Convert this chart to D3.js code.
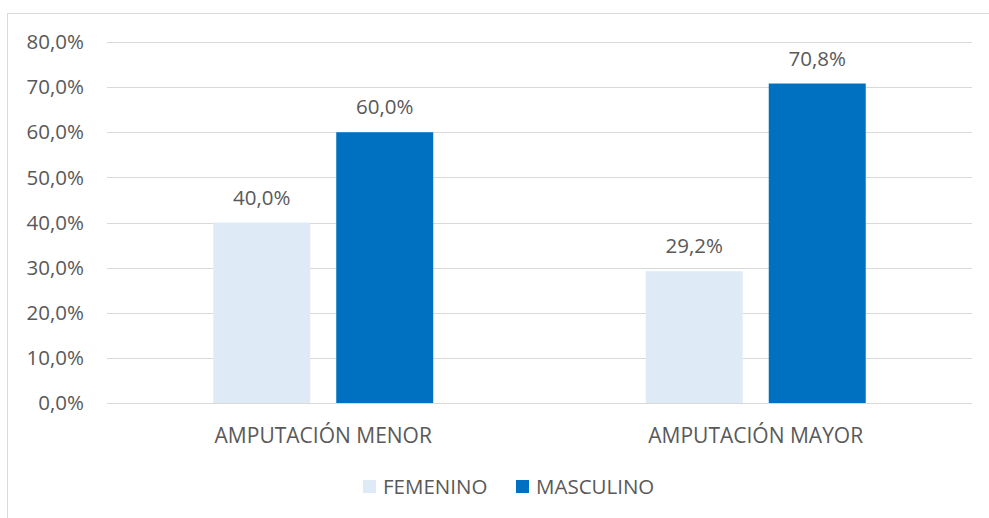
<!DOCTYPE html>
<html>
<head>
<meta charset="utf-8">
<script src="https://cdn.jsdelivr.net/npm/d3@7"></script>
<style>
  body { margin: 0; background: #fff; }
  text { font-family: "Open Sans", sans-serif; fill: #595959; }
</style>
</head>
<body>
<div id="chart"></div>
<script>
// data
var categories = ["AMPUTACIÓN MENOR", "AMPUTACIÓN MAYOR"];
var seriesNames = ["FEMENINO", "MASCULINO"];
var femenino = [40.0, 29.2];
var masculino = [60.0, 70.8];
var yTicks = [0, 10, 20, 30, 40, 50, 60, 70, 80];

var colors = ["#DEEBF7", "#0070C0"];
var W = 989, H = 518;
var margin = {left: 107, right: 17, top: 42, bottom: 115};

var svg = d3.select("#chart").append("svg")
  .attr("width", W)
  .attr("height", H);

// chart frame (cropped on right and bottom)
svg.append("rect")
  .attr("x", 7.5).attr("y", 13.5)
  .attr("width", W + 10).attr("height", H + 10)
  .attr("fill", "none")
  .attr("stroke", "#D9D9D9");

var y = d3.scaleLinear().domain([0, 80]).range([H - margin.bottom, margin.top]);
var x0 = d3.scaleBand().domain(categories).range([margin.left, W - margin.right]);
var x1 = d3.scaleBand().domain(seriesNames).range([0, x0.bandwidth()])
  .paddingInner(0.2114).paddingOuter(0.864);

var fmt = function(v) { return v.toFixed(1).replace(".", ",") + "%"; };

// gridlines
svg.append("g").selectAll("line").data(yTicks).join("line")
  .attr("x1", margin.left).attr("x2", W - margin.right)
  .attr("y1", d => Math.round(y(d)) + 0.5).attr("y2", d => Math.round(y(d)) + 0.5)
  .attr("stroke", "#D9D9D9").attr("stroke-width", 1);

// y axis labels
svg.append("g").selectAll("text").data(yTicks).join("text")
  .attr("x", 84).attr("y", d => y(d))
  .attr("dy", "0.35em")
  .attr("text-anchor", "end")
  .style("font-size", "20.5px")
  .text(d => fmt(d));

var rows = categories.map((c, i) => ({cat: c, vals: [femenino[i], masculino[i]]}));

var groups = svg.append("g").selectAll("g").data(rows).join("g")
  .attr("transform", d => "translate(" + x0(d.cat) + ",0)");

groups.selectAll("rect").data(d => d.vals.map((v, j) => ({s: seriesNames[j], v: v, j: j}))).join("rect")
  .attr("x", d => x1(d.s))
  .attr("width", x1.bandwidth())
  .attr("y", d => y(d.v))
  .attr("height", d => y(0) - y(d.v))
  .attr("fill", d => colors[d.j]);

groups.selectAll("text.lbl").data(d => d.vals.map((v, j) => ({s: seriesNames[j], v: v}))).join("text")
  .attr("class", "lbl")
  .attr("x", d => x1(d.s) + x1.bandwidth() / 2)
  .attr("y", d => y(d.v) - 25)
  .attr("dy", "0.35em")
  .attr("text-anchor", "middle")
  .style("font-size", "20.5px")
  .text(d => fmt(d.v));

// category labels
svg.append("g").selectAll("text").data(categories).join("text")
  .attr("x", d => x0(d) + x0.bandwidth() / 2)
  .attr("y", 436)
  .attr("dy", "0.35em")
  .attr("text-anchor", "middle")
  .style("font-size", "21px")
  .text(d => d);

// legend
var legendX = [363, 516];
var legend = svg.append("g").selectAll("g").data(seriesNames).join("g")
  .attr("transform", (d, i) => "translate(" + legendX[i] + ",480)");
legend.append("rect")
  .attr("width", 13).attr("height", 13)
  .attr("fill", (d, i) => colors[i]);
legend.append("text")
  .attr("x", 20).attr("y", 6.5)
  .attr("dy", "0.35em")
  .style("font-size", "20.5px")
  .text(d => d);
</script>
</body>
</html>
